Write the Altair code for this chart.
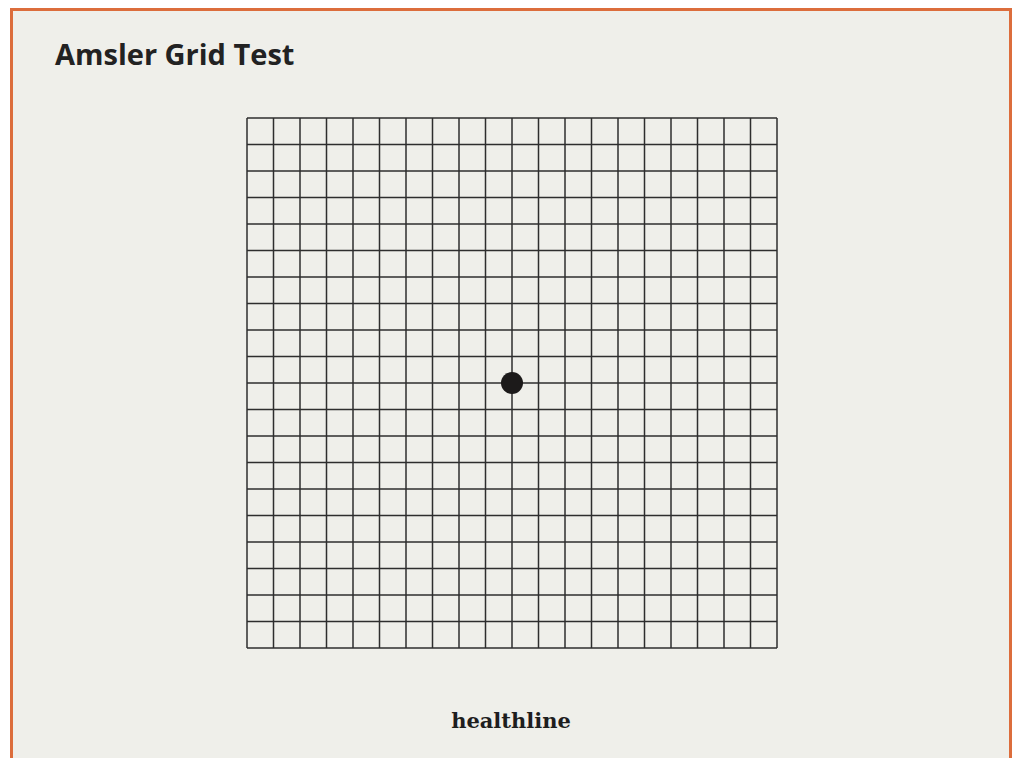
import altair as alt
import pandas as pd

# Grid line positions (cells of the 20 x 20 Amsler grid)
grid_positions = [0, 1, 2, 3, 4, 5, 6, 7, 8, 9, 10, 11, 12, 13, 14, 15, 16, 17, 18, 19, 20]
grid_start = [0]
grid_end = [20]
# Central fixation dot
dot_x = [10]
dot_y = [10]
title_text = "Amsler Grid Test"
logo_text = "healthline"

lines_df = pd.DataFrame({
    "pos": grid_positions,
    "start": grid_start * len(grid_positions),
    "end": grid_end * len(grid_positions),
})
dot_df = pd.DataFrame({"x": dot_x, "y": dot_y})
one = pd.DataFrame({"a": [0]})

xs = alt.Scale(domain=[0, 20], nice=False, zero=False)
ys = alt.Scale(domain=[0, 20], nice=False, zero=False, reverse=True)
LINE = "#2e2e2e"
BG = "#efefea"
ORANGE = "#dc6d3c"

panel = alt.Chart(one).mark_rect(color=BG).encode(
    x=alt.value(-234), x2=alt.value(762), y=alt.value(-107), y2=alt.value(650)
)
left_border = alt.Chart(one).mark_rule(color=ORANGE, strokeWidth=3).encode(
    x=alt.value(-235.5), y=alt.value(-110), y2=alt.value(650)
)
top_border = alt.Chart(one).mark_rule(color=ORANGE, strokeWidth=3).encode(
    x=alt.value(-237), x2=alt.value(765), y=alt.value(-108.5)
)
right_border = alt.Chart(one).mark_rule(color=ORANGE, strokeWidth=3).encode(
    x=alt.value(763.5), y=alt.value(-110), y2=alt.value(650)
)

vlines = alt.Chart(lines_df).mark_rule(color=LINE, strokeWidth=1.5).encode(
    x=alt.X("pos:Q", scale=xs, axis=None),
    y=alt.Y("start:Q", scale=ys, axis=None),
    y2="end:Q",
)
hlines = alt.Chart(lines_df).mark_rule(color=LINE, strokeWidth=1.5).encode(
    y=alt.Y("pos:Q", scale=ys, axis=None),
    x=alt.X("start:Q", scale=xs, axis=None),
    x2="end:Q",
)
dot = alt.Chart(dot_df).mark_point(filled=True, shape="circle", size=484, color="#1c1a1a", opacity=1).encode(
    x=alt.X("x:Q", scale=xs, axis=None),
    y=alt.Y("y:Q", scale=ys, axis=None),
)
title = alt.Chart(one).mark_text(
    text=title_text, align="left", baseline="alphabetic", font="Open Sans",
    fontWeight="bold", fontSize=29, color="#222222"
).encode(x=alt.value(-192), y=alt.value(-53))
logo = alt.Chart(one).mark_text(
    text=logo_text, align="center", baseline="alphabetic", font="DejaVu Serif",
    fontWeight="bold", fontSize=21, color="#1e1e1e"
).encode(x=alt.value(264), y=alt.value(610))

chart = alt.layer(panel, left_border, top_border, right_border, vlines, hlines, dot, title, logo).properties(
    width=530, height=530,
    autosize=alt.AutoSizeParams(type="none"),
    padding={"left": 239, "top": 110, "right": 235, "bottom": 110},
    background="white",
).configure_view(stroke=None)

chart.save("out.html", embed_options={"renderer": "svg", "actions": False})
